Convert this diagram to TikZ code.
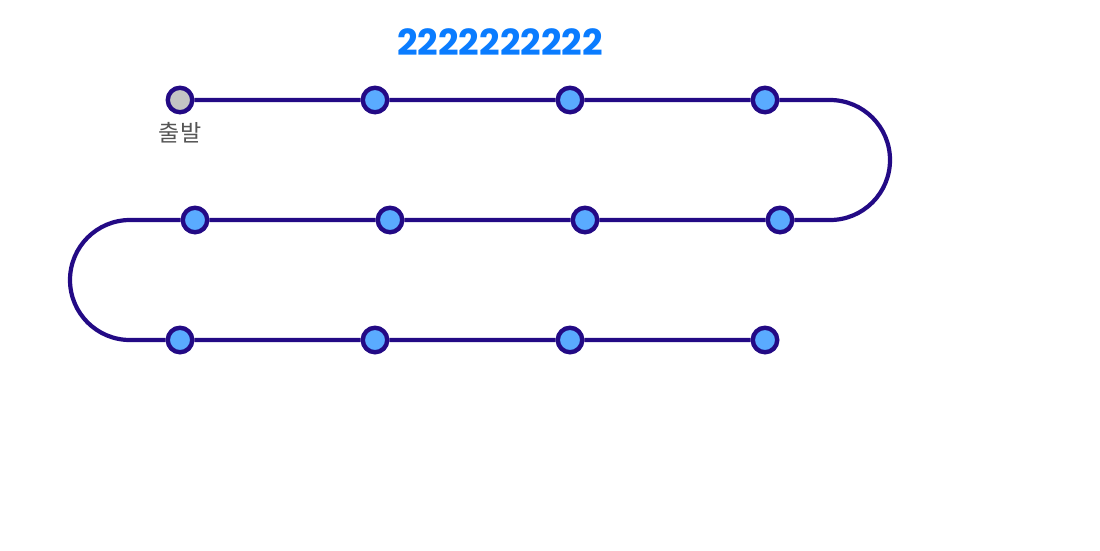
\documentclass[tikz,border=0pt]{standalone}
\usepackage{fontspec}
\setmainfont{Poppins}
\newfontfamily\krfont{Noto Sans CJK KR}
\definecolor{track}{HTML}{230A85}
\definecolor{stopfill}{HTML}{5AABFF}
\definecolor{startfill}{HTML}{C4C4C4}
\definecolor{titleblue}{HTML}{0A7CFF}
\definecolor{labelgrey}{HTML}{555555}
\begin{document}
\begin{tikzpicture}[x=1pt,y=-1pt,
  stopnode/.style={circle,draw=track,line width=4.4pt,fill=stopfill,minimum size=24.5pt,inner sep=0pt},
  startnode/.style={stopnode,fill=startfill},
  trackline/.style={draw=track,line width=4.2pt}]
\useasboundingbox (0,0) rectangle (1100,550);
\node[font=\bfseries\fontsize{36}{40}\selectfont,text=titleblue] (title) at (500,42) {2222222222};
% coordinates for the bends
\coordinate (b1) at (830,100);
\coordinate (b2) at (830,220);
\coordinate (b3) at (130,220);
\coordinate (b4) at (130,340);
% stops
\node[startnode] (s1) at (180,100) {};
\node[stopnode] (s2) at (375,100) {};
\node[stopnode] (s3) at (570,100) {};
\node[stopnode] (s4) at (765,100) {};
\node[stopnode] (s5) at (780,220) {};
\node[stopnode] (s6) at (585,220) {};
\node[stopnode] (s7) at (390,220) {};
\node[stopnode] (s8) at (195,220) {};
\node[stopnode] (s9) at (180,340) {};
\node[stopnode] (s10) at (375,340) {};
\node[stopnode] (s11) at (570,340) {};
\node[stopnode] (s12) at (765,340) {};
% track
\draw[trackline] (s1) -- (s2) -- (s3) -- (s4) -- (b1)
  arc[start angle=-90,end angle=90,radius=60] -- (s5) -- (s6) -- (s7) -- (s8) -- (b3)
  arc[start angle=-90,end angle=-270,radius=60] -- (s9) -- (s10) -- (s11) -- (s12);
\node[font=\krfont\fontsize{23}{27}\selectfont,text=labelgrey] (start) at (180,133) {출발};
\end{tikzpicture}
\end{document}
